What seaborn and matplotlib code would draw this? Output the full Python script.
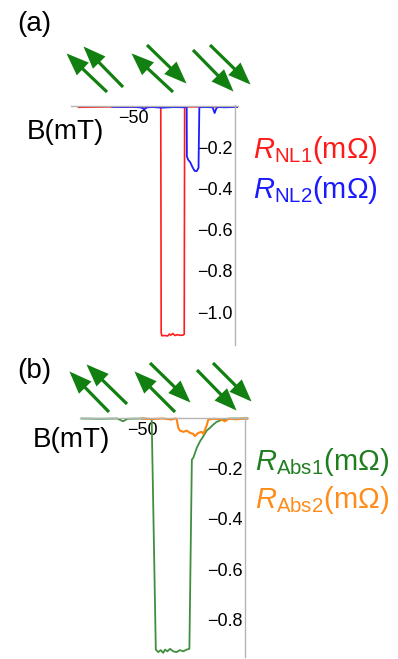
import matplotlib
matplotlib.use("Agg")
import matplotlib.pyplot as plt
import seaborn as sns
from matplotlib.patches import FancyArrowPatch, ArrowStyle
from matplotlib.ticker import MultipleLocator, FixedLocator, FixedFormatter

# ====================
# DATA
# ====================
# panel (a): nonlocal resistance vs field
b_nl1 = [-76.8, -70, -62, -55, -48, -42, -36.4, -36.2, -35.9, -34.5, -33.0, -32.2, -31.5, -30.5,
         -29.5, -28.3, -26.8, -25.5, -24.9, -24.7, -20, -12, -5, 0, 1.5]
r_nl1 = [-0.006, -0.005, -0.004, -0.005, -0.004, -0.005, -0.005, -1.10, -1.115, -1.114, -1.116,
         -1.107, -1.112, -1.104, -1.114, -1.110, -1.113, -1.112, -1.108, -0.004, -0.004, -0.004,
         -0.004, -0.004, -0.004]

b_nl2 = [-60.4, -55, -50, -46, -44.5, -43, -40, -36, -30, -26, -23.7, -23.6, -22.9, -22.0, -20.9,
         -19.8, -18.8, -17.9, -17.5, -15, -11, -10.0, -9.2, -8.4, -5, 0, 1.5]
r_nl2 = [-0.004, -0.005, -0.004, -0.007, -0.016, -0.006, -0.005, -0.008, -0.005, -0.006, -0.006,
         -0.245, -0.262, -0.272, -0.296, -0.315, -0.316, -0.300, -0.006, -0.005, -0.006, -0.034,
         -0.012, -0.005, -0.006, -0.005, -0.005]

# panel (b): absolute resistance vs field
b_abs1 = [-79.5, -70, -62, -59.2, -57, -50, -45.3, -43.3, -42.1, -40.9, -39.7, -38.8, -37.7, -36.4,
          -34.8, -33.2, -31.6, -30.0, -28.3, -27.0, -25.8, -25.1, -23.4, -21.8, -20.2, -18.6, -17.0,
          -15.4, -13.7, -12.1, -10.5, -6, 0, 1.5]
r_abs1 = [-0.002, -0.003, -0.002, -0.013, -0.003, -0.002, -0.004, -0.919, -0.929, -0.921, -0.932,
          -0.919, -0.926, -0.916, -0.926, -0.929, -0.921, -0.926, -0.919, -0.916, -0.165, -0.158,
          -0.118, -0.092, -0.072, -0.050, -0.039, -0.026, -0.015, -0.010, -0.004, -0.002, -0.002,
          -0.002]

b_abs2 = [-50, -45, -40, -35.6, -34, -33.2, -32.4, -31.6, -29.9, -28.3, -26.7, -25.1, -24.3, -22.7,
          -21.0, -20.2, -19.4, -18.6, -17.8, -15, -12, -9.7, -8, -4, 0, 1.5]
r_abs2 = [-0.002, -0.004, -0.002, -0.006, -0.002, -0.003, -0.039, -0.050, -0.055, -0.050, -0.059,
          -0.063, -0.072, -0.059, -0.055, -0.063, -0.046, -0.029, -0.006, -0.003, -0.005, -0.013,
          -0.003, -0.005, -0.002, -0.003]

yticks_a = [-0.2, -0.4, -0.6, -0.8, -1.0]
yticks_b = [-0.2, -0.4, -0.6, -0.8]

# ====================
# STYLE
# ====================
W, H = 398, 659
sns.set_style("white")
plt.rcParams["font.family"] = ["Liberation Sans", "DejaVu Sans"]
plt.rcParams["mathtext.fontset"] = "custom"
plt.rcParams["mathtext.rm"] = "Liberation Sans"
plt.rcParams["mathtext.it"] = "Liberation Sans:italic"
plt.rcParams["text.color"] = "black"

AXIS_GRAY = "#b4b4b4"
ARROW_GREEN = "#118011"

fig = plt.figure(figsize=(W / 100, H / 100), dpi=100)


def px_axes(left, top, right, bottom):
    return fig.add_axes([left / W, 1 - bottom / H, (right - left) / W, (bottom - top) / H])


def style_axes(ax, xlim, ylim, yticks):
    ax.set_xlim(*xlim)
    ax.set_ylim(*ylim)
    ax.patch.set_alpha(0)
    ax.spines["top"].set_visible(False)
    ax.spines["right"].set_visible(False)
    ax.spines["left"].set_position(("data", 0))
    ax.spines["bottom"].set_position(("data", 0))
    for s in ["left", "bottom"]:
        ax.spines[s].set_color(AXIS_GRAY)
        ax.spines[s].set_linewidth(1.0)
    ax.xaxis.set_major_locator(FixedLocator([-50]))
    ax.xaxis.set_major_formatter(FixedFormatter(["\u221250"]))
    ax.xaxis.set_minor_locator(MultipleLocator(10))
    ax.yaxis.set_major_locator(FixedLocator(yticks))
    ax.yaxis.set_major_formatter(FixedFormatter([f"{v:.1f}".replace("-", "\u2212") for v in yticks]))
    ax.yaxis.set_minor_locator(MultipleLocator(0.05))
    ax.tick_params(which="both", colors=AXIS_GRAY, labelcolor="black", labelsize=13, width=0.8)
    ax.tick_params(axis="x", which="major", direction="in", length=4, pad=3)
    ax.tick_params(axis="x", which="minor", direction="in", length=2.5)
    ax.tick_params(axis="y", which="major", direction="in", length=4, pad=1.5)
    ax.tick_params(axis="y", which="minor", direction="in", length=2.5)
    ax.set_xlabel("")
    ax.set_ylabel("")


def arrow(tail, tip):
    fig.patches.append(FancyArrowPatch(
        (tail[0] / W, 1 - tail[1] / H), (tip[0] / W, 1 - tip[1] / H),
        transform=fig.transFigure, arrowstyle=ArrowStyle("-|>", head_length=0.85, head_width=0.33),
        mutation_scale=14, lw=2.3, color=ARROW_GREEN, shrinkA=0, shrinkB=1.5,
        joinstyle="miter", capstyle="butt"))


# ====================
# PANEL (a)
# ====================
ax_a = px_axes(70.8, 104.8, 238.1, 345)
sns.lineplot(x=b_nl1, y=r_nl1, ax=ax_a, color="#ff1c1c", linewidth=1.2, sort=False, estimator=None)
sns.lineplot(x=b_nl2, y=r_nl2, ax=ax_a, color="#1c1cff", linewidth=1.3, sort=False, estimator=None)
style_axes(ax_a, (-80.5, 1.5), (-1.16, 0.006), yticks_a)

fig.text(34 / W, 1 - 24 / H, "(a)", fontsize=20, ha="center", va="center")
fig.text(27 / W, 1 - 132 / H, "B(mT)", fontsize=20, ha="left", va="center")
fig.text(253 / W, 1 - 150 / H, r"$R_{\mathrm{NL1}}$(mΩ)", fontsize=21, color="#ff1a1a", ha="left", va="center")
fig.text(253 / W, 1 - 190 / H, r"$R_{\mathrm{NL2}}$(mΩ)", fontsize=21, color="#1a1aff", ha="left", va="center")

for tail, tip in [((107, 92), (65, 52)), ((123, 87), (82, 45)),
                  ((173, 92), (130, 52)), ((147, 45), (188, 85)),
                  ((193, 50), (235, 93)), ((210, 45), (252, 86))]:
    arrow(tail, tip)

# ====================
# PANEL (b)
# ====================
ax_b = px_axes(80.2, 416.5, 248.1, 657.4)
sns.lineplot(x=b_abs1, y=r_abs1, ax=ax_b, color="#3f8f3f", linewidth=1.3, sort=False, estimator=None)
sns.lineplot(x=b_abs2, y=r_abs2, ax=ax_b, color="#ff8412", linewidth=1.5, sort=False, estimator=None)
style_axes(ax_b, (-80, 1.5), (-0.95, 0.006), yticks_b)

fig.text(34 / W, 1 - 371 / H, "(b)", fontsize=20, ha="center", va="center")
fig.text(33 / W, 1 - 440 / H, "B(mT)", fontsize=20, ha="left", va="center")
fig.text(255 / W, 1 - 462 / H, r"$R_{\mathrm{Abs1}}$(mΩ)", fontsize=21, color="#1f7f1f", ha="left", va="center")
fig.text(255 / W, 1 - 500 / H, r"$R_{\mathrm{Abs2}}$(mΩ)", fontsize=21, color="#ff8c1a", ha="left", va="center")

for tail, tip in [((109, 412), (68, 370)), ((127, 404), (85, 363)),
                  ((175, 412), (133, 370)), ((150, 363), (192, 404)),
                  ((197, 370), (238, 412)), ((213, 363), (253, 403))]:
    arrow(tail, tip)

fig.savefig("out.png", dpi=100)
plt.close(fig)
